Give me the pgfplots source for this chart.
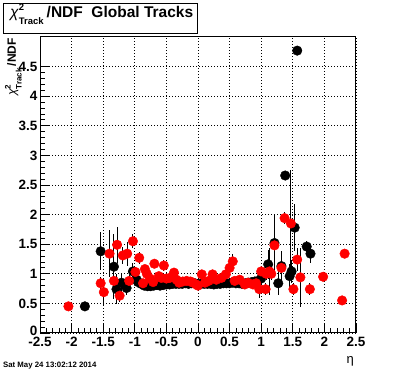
\documentclass[border=0pt]{standalone}
\usepackage{fontspec}
\setmainfont{Liberation Sans}
\usepackage{pgfplots}
\usepackage{pgfplotstable}
\pgfplotsset{compat=1.18}

\pgfplotstableread{
x y e
-1.79 0.45 0.0
-1.54 1.38 0.32
-1.33 1.12 0.55
-1.29 0.74 0.25
-1.21 0.85 0.15
-1.13 0.76 0.12
-1.03 1.04 0.15
-0.97 0.90 0.08
-0.95 0.86 0.05
-0.90 0.83 0.04
-0.85 0.80 0.04
-0.80 0.79 0.03
-0.75 0.79 0.03
-0.70 0.80 0.03
-0.65 0.81 0.03
-0.60 0.80 0.03
-0.55 0.81 0.03
-0.50 0.82 0.03
-0.45 0.82 0.02
-0.40 0.83 0.02
-0.35 0.83 0.02
-0.30 0.83 0.02
-0.25 0.83 0.02
-0.20 0.84 0.02
-0.15 0.83 0.02
-0.10 0.84 0.02
-0.05 0.84 0.02
0.00 0.83 0.02
0.05 0.83 0.02
0.10 0.83 0.02
0.15 0.83 0.02
0.20 0.83 0.02
0.25 0.82 0.02
0.30 0.83 0.02
0.35 0.83 0.02
0.40 0.84 0.02
0.45 0.84 0.02
0.50 0.84 0.03
0.55 0.85 0.03
0.60 0.84 0.03
0.65 0.84 0.03
0.70 0.83 0.03
0.75 0.84 0.03
0.80 0.85 0.03
0.85 0.86 0.04
0.90 0.87 0.04
0.95 0.88 0.05
1.00 0.92 0.06
1.11 1.16 0.25
1.21 1.52 0.48
1.27 0.84 0.20
1.32 1.13 0.25
1.38 2.66 0.0
1.45 0.96 0.20
1.48 1.04 0.20
1.53 1.78 0.40
1.57 4.77 0.0
1.72 1.46 0.10
1.78 1.34 0.15
}\blackdata

\pgfplotstableread{
x y e
-2.05 0.45 0.0
-1.54 0.84 0.10
-1.49 0.69 0.22
-1.40 1.34 0.40
-1.33 0.88 0.15
-1.28 1.49 0.30
-1.24 0.63 0.10
-1.19 1.31 0.15
-1.12 1.34 0.20
-1.09 0.88 0.10
-1.03 1.55 0.12
-0.99 1.03 0.08
-0.93 1.27 0.10
-0.87 0.84 0.05
-0.84 1.08 0.06
-0.81 1.00 0.05
-0.76 0.92 0.05
-0.71 0.86 0.05
-0.69 1.17 0.08
-0.62 0.96 0.05
-0.58 0.93 0.05
-0.54 1.14 0.10
-0.50 0.92 0.04
-0.45 0.93 0.05
-0.38 1.02 0.05
-0.34 0.90 0.04
-0.30 0.85 0.04
-0.24 0.87 0.04
-0.18 0.88 0.04
-0.12 0.87 0.04
-0.08 0.85 0.04
-0.03 0.82 0.04
0.00 0.80 0.04
0.06 0.99 0.04
0.11 0.85 0.04
0.17 0.88 0.04
0.23 0.99 0.04
0.29 0.90 0.04
0.37 0.93 0.04
0.44 0.99 0.05
0.50 1.10 0.06
0.55 1.21 0.12
0.58 0.88 0.05
0.66 0.90 0.05
0.74 0.82 0.05
0.79 0.85 0.05
0.87 0.82 0.05
0.92 0.84 0.05
0.97 0.74 0.15
1.00 1.04 0.08
1.07 0.74 0.10
1.08 1.00 0.10
1.13 1.04 0.40
1.16 1.00 0.10
1.21 1.48 0.20
1.32 1.10 0.15
1.37 1.94 0.10
1.47 1.85 0.90
1.51 0.74 0.10
1.57 1.24 0.20
1.62 0.94 0.50
1.77 0.74 0.10
1.98 0.95 0.0
2.28 0.55 0.0
2.32 1.34 0.0
}\reddata

\begin{document}
\begin{tikzpicture}[x=1pt,y=1pt]
\useasboundingbox (0,0) rectangle (396,372);
\begin{axis}[
  at={(40pt,39pt)}, anchor=south west,
  scale only axis, width=316pt, height=296pt,
  xmin=-2.5, xmax=2.5, ymin=0, ymax=5,
  xtick={-2.5,-2,-1.5,-1,-0.5,0,0.5,1,1.5,2,2.5},
  ytick={0,0.5,1,1.5,2,2.5,3,3.5,4,4.5},
  xticklabels={-2.5,-2,-1.5,-1,-0.5,0,0.5,1,1.5,2,2.5},
  yticklabels={\raisebox{5pt}{0},0.5,1,1.5,2,2.5,3,3.5,4,4.5},
  minor x tick num=4, minor y tick num=4,
  tick align=inside, xtick pos=bottom, ytick pos=left,
  major tick length=9pt, minor tick length=4.5pt,
  tick style={black, line width=0.8pt},
  grid=major,
  major grid style={black, line width=0.7pt, dash pattern=on 0.9pt off 2.1pt},
  axis line style={line width=1pt},
  ticklabel style={font=\fontsize{13.5}{14}\selectfont\bfseries, inner sep=0.5pt},
  yticklabel style={xshift=-2pt},
  xticklabel style={yshift=-3.5pt},
]
\addplot[only marks, mark=*, mark size=4.8pt, black, mark options={fill=black, draw=black},
  error bars/.cd, y dir=both, y explicit, error mark=none,
  error bar style={black, line width=0.9pt}]
  table[x=x, y=y, y error=e] {\blackdata};
\addplot[only marks, mark=*, mark size=4.8pt, red, mark options={fill=red, draw=red},
  error bars/.cd, y dir=both, y explicit, error mark=none,
  error bar style={black, line width=0.9pt}]
  table[x=x, y=y, y error=e] {\reddata};
\end{axis}
% title box
\draw[line width=0.8pt, fill=white] (3,339) rectangle (197,369);
\node[anchor=base west, inner sep=0pt] at (10,354) {\fontsize{15.5}{15.5}\selectfont\textit{χ}\makebox[0pt][l]{\raisebox{7pt}{\fontsize{9.5}{9.5}\selectfont\bfseries 2}}\raisebox{-6.5pt}{\fontsize{9.5}{9.5}\selectfont\bfseries Track}\hspace{3pt}\bfseries /NDF\ \ Global Tracks};
% y label
\node[rotate=90, anchor=base east, inner sep=0pt] at (16,334) {\fontsize{12}{12}\selectfont\textit{χ}\makebox[0pt][l]{\raisebox{5.5pt}{\fontsize{8}{8}\selectfont\bfseries 2}}\raisebox{-5.5pt}{\fontsize{8}{8}\selectfont\bfseries Track}\hspace{2pt}\bfseries /NDF};
% x label
\node[anchor=base east, inner sep=0pt] at (354,9) {\fontsize{13}{13}\selectfont η};
% date
\node[anchor=base west, inner sep=0pt] at (3,4.5) {\fontsize{7.8}{8}\selectfont\bfseries Sat May 24 13:02:12 2014};
\end{tikzpicture}
\end{document}
